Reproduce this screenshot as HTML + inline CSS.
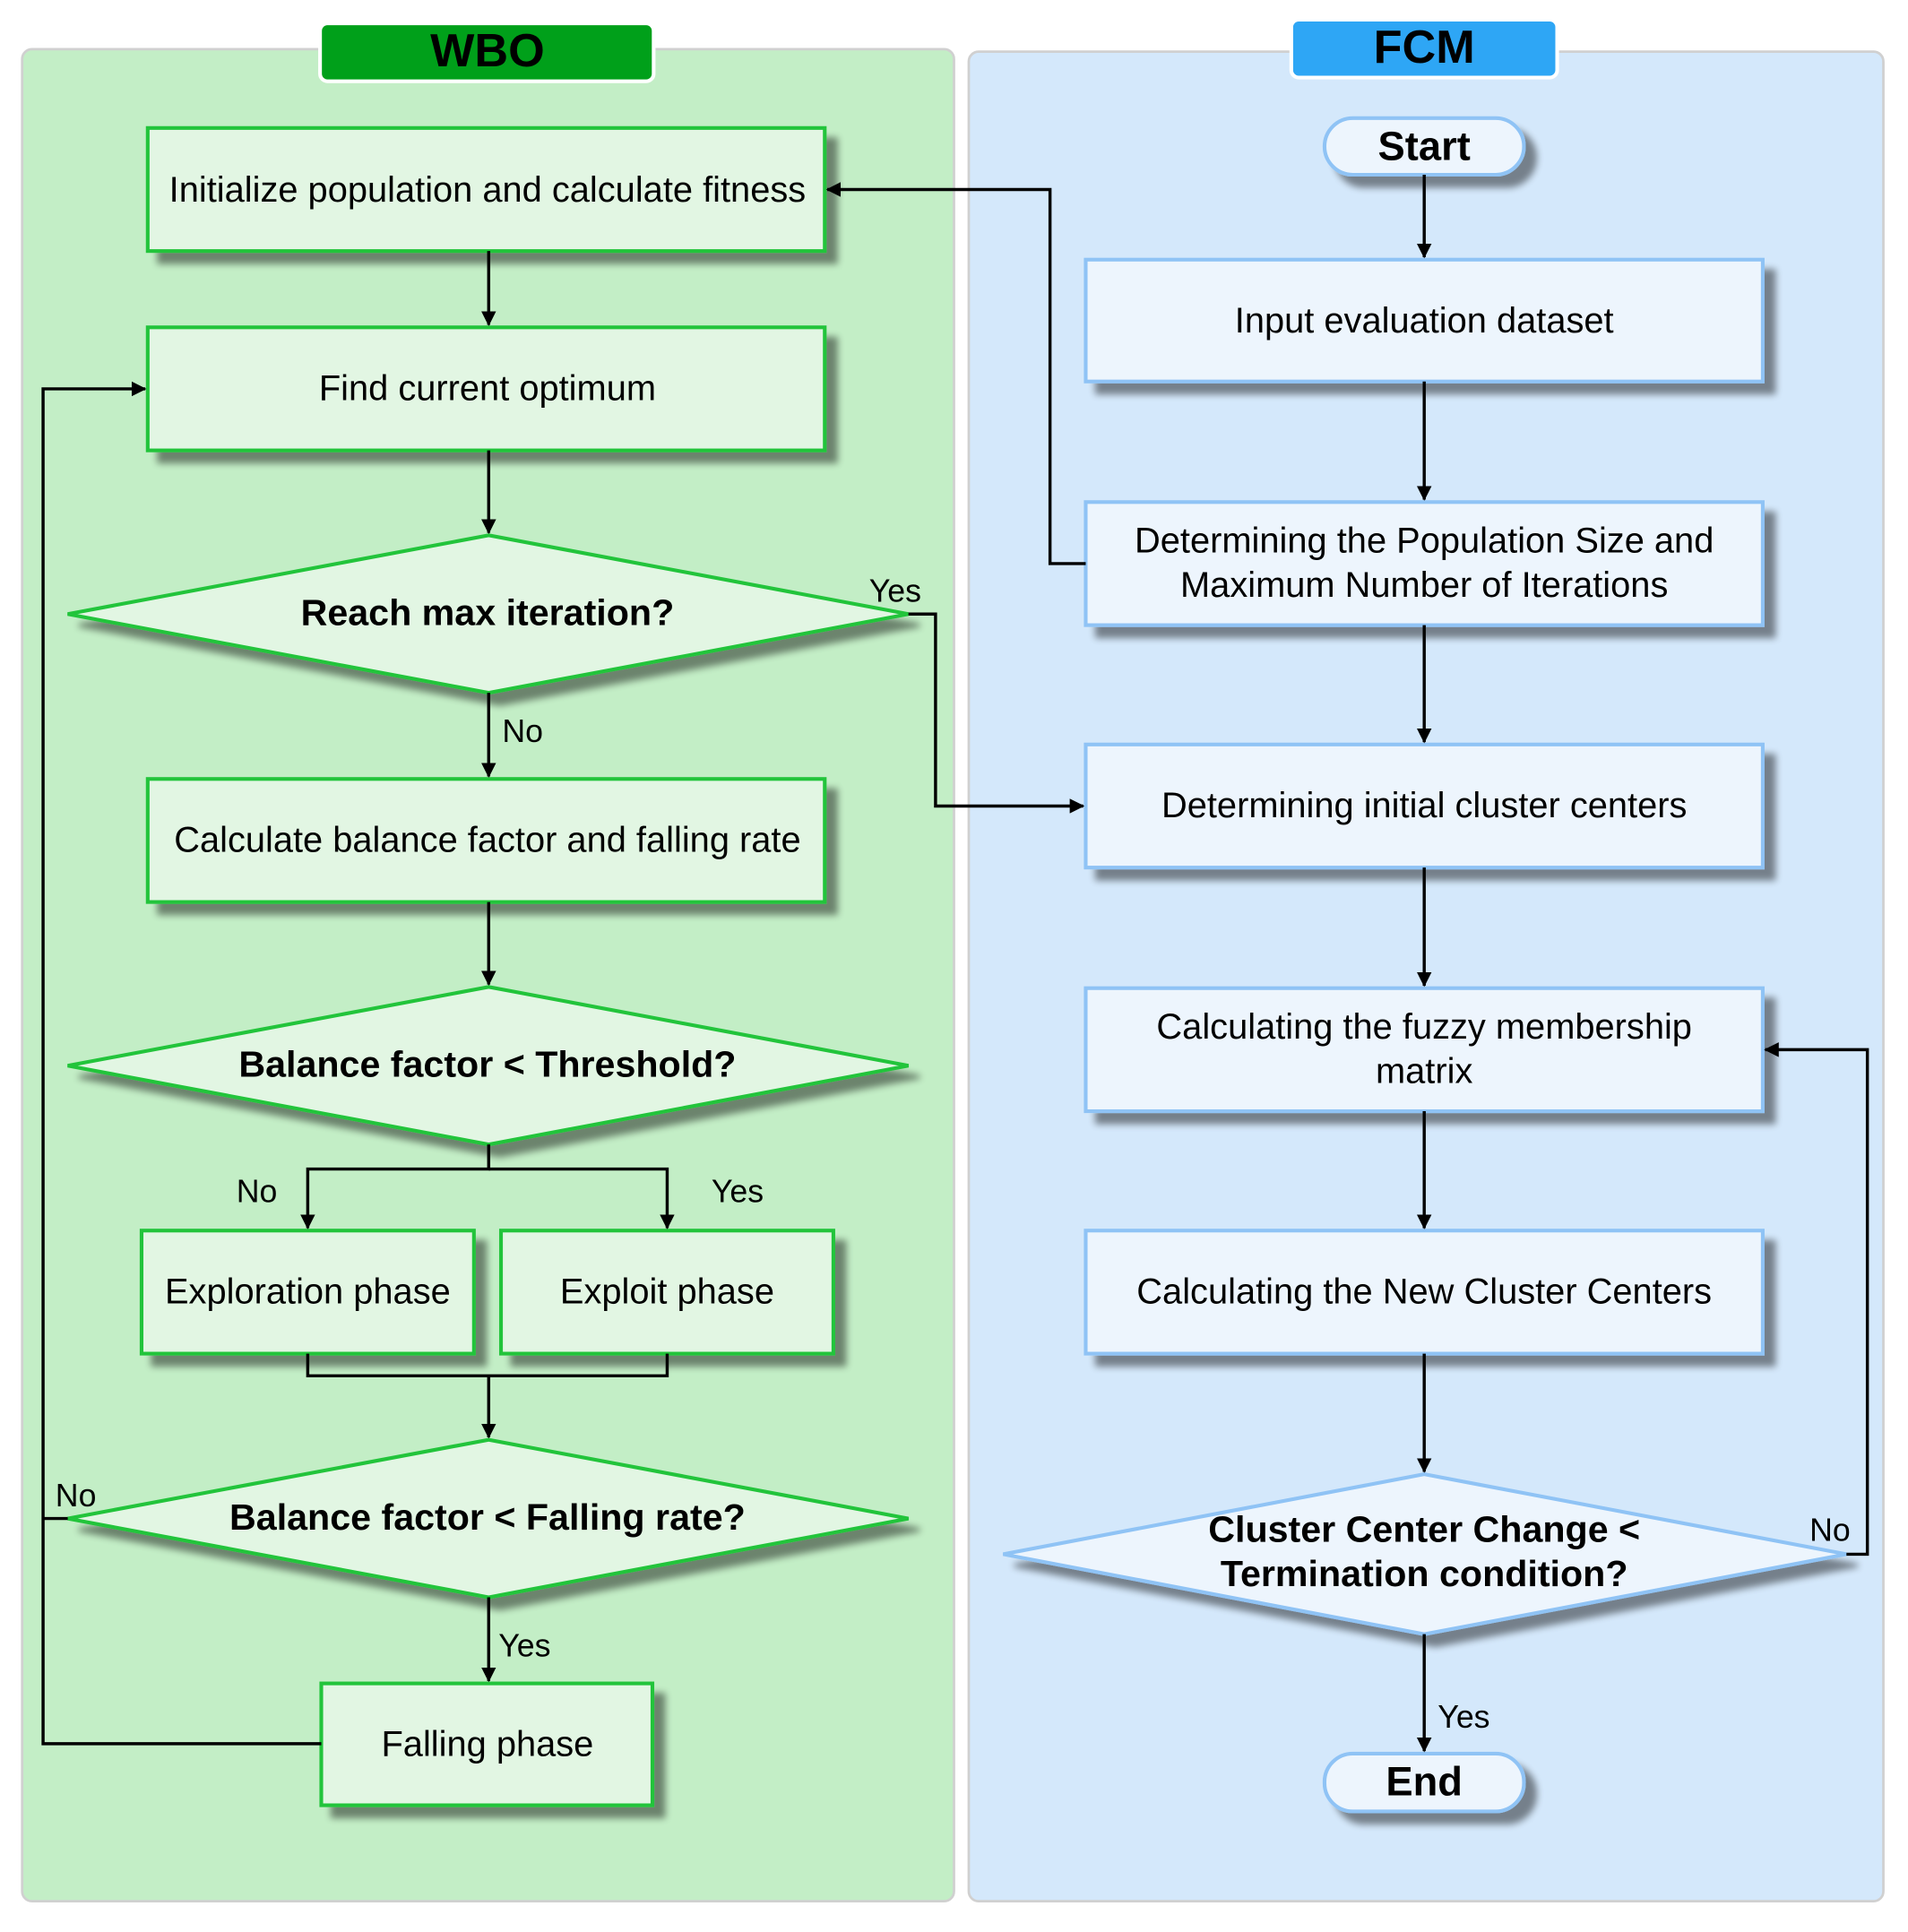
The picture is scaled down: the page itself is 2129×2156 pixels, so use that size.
<!DOCTYPE html>
<html><head><meta charset="utf-8"><style>
html,body{margin:0;padding:0;background:#fff;}
svg{display:block;}
text{font-family:"Liberation Sans",Arial,sans-serif;fill:#000;}
</style></head><body>
<svg width="2129" height="2156" viewBox="0 0 1550 1570" preserveAspectRatio="none" xmlns="http://www.w3.org/2000/svg">
<defs>
<marker id="a" markerWidth="12" markerHeight="12" refX="11" refY="6" orient="auto" markerUnits="userSpaceOnUse"><path d="M0,0 L12,6 L0,12 z" fill="#000"/></marker>
<filter id="s" x="-10%" y="-20%" width="130%" height="160%"><feGaussianBlur in="SourceAlpha" stdDeviation="3"/><feOffset dx="9" dy="9"/><feComponentTransfer><feFuncA type="linear" slope="0.45"/></feComponentTransfer><feMerge><feMergeNode/><feMergeNode in="SourceGraphic"/></feMerge></filter>
</defs>
<rect x="18" y="40" width="757" height="1505" rx="8" fill="#c3eec6" stroke="#d0d0d0" stroke-width="2"/>
<rect x="787" y="42" width="743" height="1503" rx="8" fill="#d4e8fb" stroke="#d0d0d0" stroke-width="2"/>
<rect x="260" y="19" width="271" height="47" rx="6" fill="#00a01a" stroke="#fff" stroke-width="3"/>
<text x="396" y="54" font-size="38" font-weight="bold" text-anchor="middle">WBO</text>
<rect x="1049" y="16" width="216" height="47" rx="6" fill="#2ea6f5" stroke="#fff" stroke-width="3"/>
<text x="1157" y="51" font-size="38" font-weight="bold" text-anchor="middle">FCM</text>

<g fill="#e2f6e3" stroke="#22c43a" stroke-width="3" filter="url(#s)">
<rect x="120" y="104" width="550" height="100"/>
<rect x="120" y="266" width="550" height="100"/>
<polygon points="55,499 397,435 738,499 397,563"/>
<rect x="120" y="633" width="550" height="100"/>
<polygon points="55,866 397,802 738,866 397,930"/>
<rect x="115" y="1000" width="270" height="100"/>
<rect x="407" y="1000" width="270" height="100"/>
<polygon points="55,1234 397,1170 738,1234 397,1298"/>
<rect x="261" y="1368" width="269" height="99"/>
</g>
<g fill="#edf5fd" stroke="#8fc3f5" stroke-width="3" filter="url(#s)">
<rect x="1076" y="96" width="162" height="46" rx="23"/>
<rect x="882" y="211" width="550" height="99"/>
<rect x="882" y="408" width="550" height="100"/>
<rect x="882" y="605" width="550" height="100"/>
<rect x="882" y="803" width="550" height="100"/>
<rect x="882" y="1000" width="550" height="100"/>
<polygon points="815,1263 1157,1198 1500,1263 1157,1328"/>
<rect x="1076" y="1425" width="162" height="47" rx="23"/>
</g>

<g font-size="29" text-anchor="middle">
<text x="396" y="164">Initialize population and calculate fitness</text>
<text x="396" y="325">Find current optimum</text>
<text x="396" y="508" font-size="30" font-weight="bold">Reach max iteration?</text>
<text x="396" y="692">Calculate balance factor and falling rate</text>
<text x="396" y="875" font-size="30" font-weight="bold">Balance factor &lt; Threshold?</text>
<text x="250" y="1059">Exploration phase</text>
<text x="542" y="1059">Exploit phase</text>
<text x="396" y="1243" font-size="30" font-weight="bold">Balance factor &lt; Falling rate?</text>
<text x="396" y="1427">Falling phase</text>
<text x="1157" y="130" font-size="33" font-weight="bold">Start</text>
<text x="1157" y="270">Input evaluation dataset</text>
<text x="1157" y="449">Determining the Population Size and</text>
<text x="1157" y="485">Maximum Number of Iterations</text>
<text x="1157" y="664">Determining initial cluster centers</text>
<text x="1157" y="844">Calculating the fuzzy membership</text>
<text x="1157" y="880">matrix</text>
<text x="1157" y="1059">Calculating the New Cluster Centers</text>
<text x="1157" y="1253" font-size="30" font-weight="bold">Cluster Center Change &lt;</text>
<text x="1157" y="1289" font-size="30" font-weight="bold">Termination condition?</text>
<text x="1157" y="1459" font-size="33" font-weight="bold">End</text>
</g>
<g font-size="26">
<text x="706" y="489">Yes</text>
<text x="408" y="603">No</text>
<text x="192" y="977">No</text>
<text x="578" y="977">Yes</text>
<text x="45" y="1224">No</text>
<text x="405" y="1346">Yes</text>
<text x="1168" y="1404">Yes</text>
<text x="1470" y="1252">No</text>
</g>

<g fill="none" stroke="#000" stroke-width="2.5" marker-end="url(#a)">
<path d="M397,204 V264"/>
<path d="M397,366 V433"/>
<path d="M397,563 V631"/>
<path d="M738,499 H760 V655 H880"/>
<path d="M397,733 V800"/>
<path d="M397,930 V950 H250 V998"/>
<path d="M397,950 H542 V998"/>
<path d="M397,1118 V1168"/>
<path d="M397,1298 V1366"/>
<path d="M261,1417 H35 V316 H118"/>
<path d="M882,458 H853 V154 H672"/>
<path d="M1157,142 V209"/>
<path d="M1157,310 V406"/>
<path d="M1157,508 V603"/>
<path d="M1157,705 V801"/>
<path d="M1157,903 V998"/>
<path d="M1157,1100 V1196"/>
<path d="M1157,1328 V1423"/>
<path d="M1500,1263 H1517 V853 H1434"/>
</g>
<g fill="none" stroke="#000" stroke-width="2.5">
<path d="M250,1100 V1118 H542 V1100"/>
<path d="M55,1234 H35"/>
</g>
</svg>
</body></html>
